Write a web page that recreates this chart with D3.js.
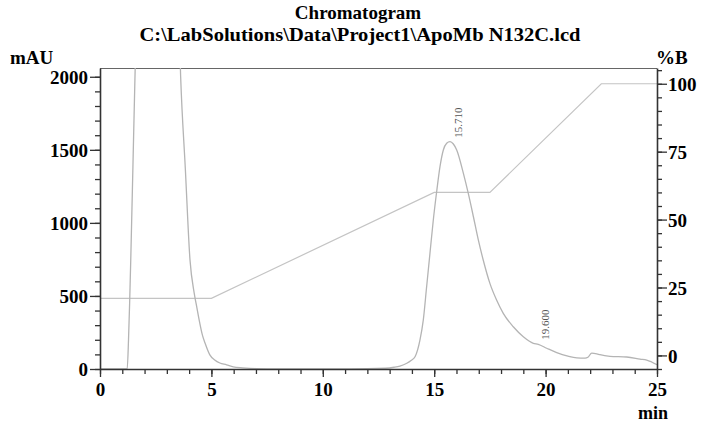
<!DOCTYPE html>
<html>
<head>
<meta charset="utf-8">
<script src="https://cdn.jsdelivr.net/npm/d3@7"></script>
<style>
  html, body { margin: 0; padding: 0; background: #fff; }
  svg { display: block; }
  text { font-family: "Liberation Serif", "Times New Roman", serif; }
</style>
</head>
<body>
<svg id="chart" width="701" height="428"></svg>
<script>
// ---- data ----
const titleLines = ["Chromatogram", "C:\\LabSolutions\\Data\\Project1\\ApoMb N132C.lcd"];
const xTicks = [0, 5, 10, 15, 20, 25];
const yLeftTicks = [0, 500, 1000, 1500, 2000];
const yRightTicks = [0, 25, 50, 75, 100];

// chromatogram trace (min, mAU)
const traceTime = [0, 1.0, 1.22, 1.28, 1.33, 1.38, 1.48, 1.57, 1.7, 3.5, 3.62, 3.83, 4.04, 4.23, 4.35, 4.45, 4.6, 4.71, 4.93, 5.15, 5.38, 5.68, 5.98, 6.4, 7.0, 8.0, 10.0, 12.0, 12.8, 13.2, 13.46, 13.77, 13.96, 14.14, 14.36, 14.51, 14.66, 14.81, 14.96, 15.11, 15.26, 15.41, 15.56, 15.71, 15.86, 16.01, 16.31, 16.53, 16.76, 16.98, 17.2, 17.5, 17.8, 18.1, 18.55, 19.0, 19.45, 19.67, 20.05, 20.5, 21.0, 21.4, 21.77, 21.9, 22.07, 22.3, 22.44, 22.89, 23.64, 24.24, 24.54, 25.0];
const traceMAU  = [0, 0, 0, 200, 450, 745, 1400, 2000, 2600, 2600, 2000, 1370, 745, 518, 418, 336, 230, 180, 97, 62, 41, 29, 14, 8, 3, 1, 1, 2, 5, 12, 20, 39, 58, 84, 198, 335, 563, 792, 1020, 1213, 1385, 1499, 1545, 1556, 1540, 1499, 1339, 1202, 1042, 883, 746, 586, 472, 381, 289, 221, 176, 169, 142, 112, 88, 76, 74, 80, 109, 104, 98, 87, 82, 68, 61, 29];

// gradient program (min, %B)
const gradTime = [0, 5, 15, 17.5, 22.5, 25];
const gradB    = [21, 21, 60, 60, 100, 100];

// peak labels
const peakTimes = [15.710, 19.600];
const peakLabels = ["15.710", "19.600"];
const peakMAU = [1556, 172];

// ---- layout ----
const svg = d3.select("#chart");
const L = 100, R = 657, T = 68, B = 369;
const x = d3.scaleLinear().domain([0, 25]).range([L, R]);
const yL = d3.scaleLinear().domain([0, 2060]).range([B, T]);
const yR = d3.scaleLinear().domain([-5, 105.8]).range([B, T]);

const axisColor = "#333";
const traceColor = "#b4b4b4";

svg.append("defs").append("clipPath").attr("id", "plotclip")
  .append("rect").attr("x", L).attr("y", T).attr("width", R - L).attr("height", B - T);

// frame top
svg.append("line").attr("x1", L).attr("x2", R).attr("y1", T + 0.5).attr("y2", T + 0.5)
  .attr("stroke", "#666").attr("stroke-width", 1.2);

// gradient line
const gradData = gradTime.map((t, i) => [t, gradB[i]]);
svg.append("path").datum(gradData)
  .attr("clip-path", "url(#plotclip)")
  .attr("fill", "none").attr("stroke", "#c4c4c4").attr("stroke-width", 1.2)
  .attr("d", d3.line().x(d => x(d[0])).y(d => yR(d[1])));

// trace
const traceData = traceTime.map((t, i) => [t, traceMAU[i]]);
svg.append("path").datum(traceData)
  .attr("clip-path", "url(#plotclip)")
  .attr("fill", "none").attr("stroke", traceColor).attr("stroke-width", 1.3)
  .attr("d", d3.line().curve(d3.curveMonotoneX).x(d => x(d[0])).y(d => yL(d[1])));

// axes
const fontTick = "bold 19px 'Liberation Serif', serif";

function styleAxis(g) {
  g.select(".domain").attr("stroke", axisColor).attr("stroke-width", 1.6);
  g.selectAll(".tick line").attr("stroke", axisColor).attr("stroke-width", 1.3);
  g.selectAll(".tick text").attr("fill", "#000").style("font", fontTick);
}

// left axis: minor ticks
const gLminor = svg.append("g").attr("transform", `translate(${L},0)`)
  .call(d3.axisLeft(yL).tickValues(d3.range(0, 2001, 100)).tickSize(5).tickFormat("").tickSizeOuter(0));
gLminor.select(".domain").remove();
gLminor.selectAll(".tick line").attr("stroke", axisColor).attr("stroke-width", 1.3);
const gL = svg.append("g").attr("transform", `translate(${L},0)`)
  .call(d3.axisLeft(yL).tickValues(yLeftTicks).tickSize(10).tickPadding(2).tickSizeOuter(0).tickFormat(d3.format("d")));
styleAxis(gL);
gL.selectAll(".tick text").attr("dy", "0.36em");

// bottom axis
const gBminor = svg.append("g").attr("transform", `translate(0,${B})`)
  .call(d3.axisBottom(x).tickValues(d3.range(0, 26, 1)).tickSize(5).tickFormat("").tickSizeOuter(0));
gBminor.select(".domain").remove();
gBminor.selectAll(".tick line").attr("stroke", axisColor).attr("stroke-width", 1.3);
const gB = svg.append("g").attr("transform", `translate(0,${B})`)
  .call(d3.axisBottom(x).tickValues(xTicks).tickSize(8).tickPadding(6).tickSizeOuter(0).tickFormat(d3.format("d")));
styleAxis(gB);

// right axis
const gRminor = svg.append("g").attr("transform", `translate(${R},0)`)
  .call(d3.axisRight(yR).tickValues(d3.range(-5, 106, 5)).tickSize(5).tickFormat("").tickSizeOuter(0));
gRminor.select(".domain").remove();
gRminor.selectAll(".tick line").attr("stroke", axisColor).attr("stroke-width", 1.3);
const gR = svg.append("g").attr("transform", `translate(${R},0)`)
  .call(d3.axisRight(yR).tickValues(yRightTicks).tickSize(10).tickPadding(1).tickSizeOuter(0).tickFormat(d3.format("d")));
styleAxis(gR);
gR.selectAll(".tick text").attr("dy", "0.36em");

// axis titles
svg.append("text").attr("x", 10).attr("y", 64).style("font", fontTick).text("mAU");
svg.append("text").attr("x", 656).attr("y", 64).style("font", fontTick).text("%B");
svg.append("text").attr("x", 668).attr("y", 419).attr("text-anchor", "end")
  .style("font", "bold 18px 'Liberation Serif', serif").text("min");

// titles
svg.append("text").attr("x", 358).attr("y", 19).attr("text-anchor", "middle").style("font", "bold 19px 'Liberation Serif', serif").text(titleLines[0]);
svg.append("text").attr("x", 360).attr("y", 41).attr("text-anchor", "middle")
  .attr("textLength", 441).attr("lengthAdjust", "spacingAndGlyphs")
  .style("font", "bold 19px 'Liberation Serif', serif").text(titleLines[1]);

// peak labels (rotated)
peakTimes.forEach((t, i) => {
  const px = x(t) + 12, py = yL(peakMAU[i]) - 4;
  svg.append("text")
    .attr("transform", `translate(${px},${py}) rotate(-90)`)
    .attr("fill", "#555")
    .style("font", "11px 'Liberation Serif', serif")
    .text(peakLabels[i]);
});
</script>
</body>
</html>
